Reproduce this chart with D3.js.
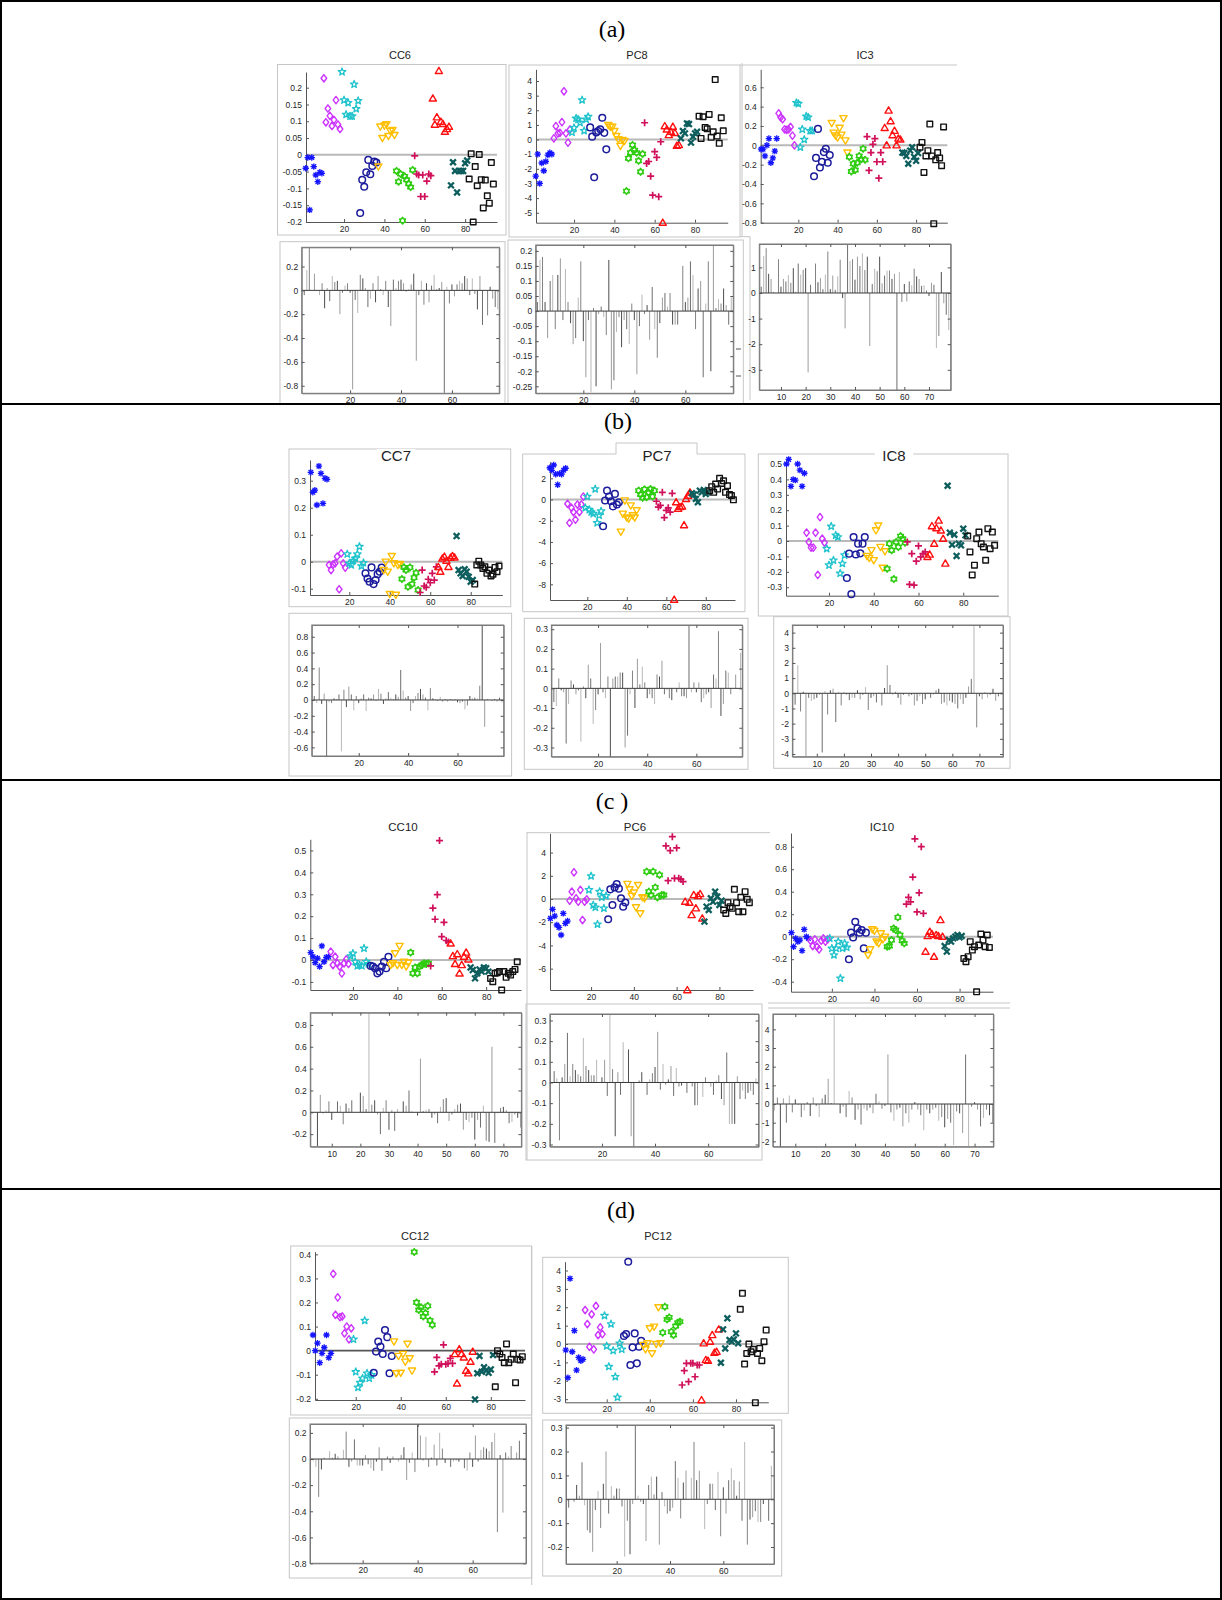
<!DOCTYPE html>
<html><head><meta charset="utf-8">
<script src="https://cdn.jsdelivr.net/npm/d3@7"></script>
<style>body{margin:0;background:#fff}svg{display:block}</style>
</head><body>
<svg id="chart" width="1222" height="1600"></svg>
<script>
// ---------------- DATA ----------------
const groupSizes = [9, 9, 9, 9, 9, 9, 9, 9, 9, 13];
const sectionLabels = ['(a)', '(b)', '(c )', '(d)'];
const scatterTitles = ['CC6', 'PC8', 'IC3', 'CC7', 'PC7', 'IC8', 'CC10', 'PC6', 'IC10', 'CC12', 'PC12'];
const scatterXTicks = [20, 40, 60, 80];
const barXTicks20 = [20, 40, 60];
const barXTicks10 = [10, 20, 30, 40, 50, 60, 70];

const cc6 = [
  [-0.04, -0.008, -0.164, -0.008, -0.035, -0.06, -0.08, -0.052, -0.055],
  [0.228, 0.097, 0.138, 0.116, 0.086, 0.104, 0.163, 0.09, 0.077],
  [0.247, 0.163, 0.12, 0.155, 0.115, 0.115, 0.21, 0.137, 0.161],
  [-0.173, -0.074, -0.095, -0.052, -0.015, -0.058, -0.033, -0.02, -0.023],
  [-0.035, 0.084, 0.05, 0.087, 0.091, 0.056, 0.071, 0.074, 0.059],
  [-0.048, -0.08, -0.057, -0.196, -0.064, -0.074, -0.086, -0.096, -0.045],
  [-0.003, -0.057, -0.06, -0.124, -0.06, -0.124, -0.078, -0.057, -0.062],
  [0.168, 0.09, 0.112, 0.25, 0.099, 0.092, 0.069, 0.077, 0.084],
  [-0.091, -0.022, -0.048, -0.112, -0.048, -0.048, -0.048, -0.025, -0.017],
  [-0.072, 0.003, -0.2, -0.035, -0.092, 0.001, -0.074, -0.158, -0.075, -0.122, -0.144, -0.023, -0.087]
];
const pc8 = [
  [-2.5, -1.0, -3.0, -1.6, -2.13, -1.5, -1.06, -0.9, -1.0],
  [0.08, 0.92, 0.42, 0.46, 1.19, 3.3, 0.42, -0.21, 0.69],
  [0.49, 0.8, 1.45, 1.38, 1.15, 2.7, 0.6, 1.38, 1.56],
  [0.83, 0.2, -2.58, 0.49, 0.58, 0.7, 1.49, 0.46, -0.67],
  [0.99, 0.88, 0.88, 0.58, 0.24, 0.01, -0.44, -0.03, -0.1],
  [-3.52, -1.28, -0.9, -0.37, -0.72, -0.9, -1.45, -2.2, -0.98],
  [1.15, -1.63, -1.5, -2.5, -3.8, -0.83, -1.22, -3.9, -0.15],
  [-5.68, 0.92, 0.69, 0.31, 0.53, 0.88, 0.46, -0.42, -0.37],
  [0.08, 0.58, 0.42, 1.1, 1.06, -0.21, 0.19, 0.42, 0.53],
  [1.6, 0.08, 1.56, 0.83, 0.74, 1.72, 0.15, 0.53, 4.1, 0.24, -0.26, 1.49, 0.6]
];
const ic3 = [
  [-0.04, -0.04, -0.11, 0.0, 0.07, -0.18, -0.13, -0.06, 0.07],
  [0.33, 0.29, 0.27, 0.165, 0.16, 0.165, 0.19, 0.1, 0.0],
  [0.44, 0.43, -0.02, 0.165, 0.06, 0.3, 0.29, 0.15, 0.15],
  [-0.32, -0.13, 0.17, -0.23, -0.17, -0.07, -0.035, -0.18, -0.1],
  [0.23, 0.13, 0.1, 0.08, 0.18, 0.11, 0.28, 0.05, -0.075],
  [-0.12, -0.27, -0.19, -0.255, -0.18, -0.11, -0.145, -0.035, -0.15],
  [0.09, -0.26, -0.075, 0.01, 0.07, -0.17, -0.34, -0.075, -0.17],
  [0.18, 0.0, 0.36, 0.25, 0.105, 0.15, 0.0, 0.07, 0.06],
  [-0.075, -0.08, -0.11, -0.19, -0.055, -0.02, -0.12, -0.16, -0.08],
  [-0.02, 0.03, -0.28, -0.11, -0.055, 0.22, -0.11, -0.81, -0.15, -0.075, -0.13, -0.21, 0.19]
];
const cc7 = [
  [0.331, 0.257, 0.265, 0.21, 0.354, 0.327, 0.216, 0.309, 0.305],
  [-0.012, -0.031, -0.01, -0.006, 0.019, -0.102, 0.031, -0.006, -0.022],
  [0.028, -0.006, -0.012, 0.004, 0.012, 0.028, 0.056, -0.016, -0.004],
  [-0.043, -0.062, -0.074, -0.021, -0.083, -0.068, -0.046, -0.037, -0.022],
  [-0.031, 0.0, -0.037, -0.12, 0.021, -0.006, -0.123, -0.012, -0.009],
  [-0.064, -0.021, -0.031, -0.093, -0.021, -0.083, -0.059, -0.041, -0.105],
  [-0.114, -0.031, -0.09, -0.095, -0.065, -0.078, -0.043, -0.068, -0.019],
  [-0.019, -0.037, 0.012, 0.019, 0.004, -0.019, 0.015, 0.021, 0.016],
  [0.095, -0.031, -0.043, -0.053, -0.028, -0.037, -0.056, -0.074, -0.068],
  [-0.083, -0.012, 0.002, -0.012, -0.025, -0.019, -0.043, -0.031, -0.053, -0.046, -0.021, -0.037, -0.016]
];
const pc7 = [
  [3.0, 2.76, 3.26, 2.39, 1.4, 2.45, 2.39, 2.76, 2.95],
  [-0.4, -2.2, -0.78, -1.18, -1.9, -0.47, -1.18, -0.47, 0.28],
  [-0.78, 0.28, -0.96, -1.18, -1.34, 0.99, -2.2, -1.49, -1.1],
  [-2.52, -0.09, 0.84, 0.28, -0.16, -0.65, 0.53, -0.47, -0.25],
  [-3.04, -1.34, -0.09, -1.7, -1.8, -0.56, -1.49, -1.7, -1.02],
  [0.84, 0.47, 0.16, 0.96, 0.22, 0.68, 0.99, 0.28, 0.84],
  [-0.16, -0.71, -0.56, 0.68, -1.7, -1.02, -0.78, -1.18, 0.59],
  [-9.45, -0.25, -0.87, -0.71, -0.65, -2.42, 0.06, 0.37, 0.68],
  [0.59, 0.47, 0.06, -0.25, 0.84, 0.68, 0.9, 0.53, 0.68],
  [0.84, 1.21, 0.68, 1.46, 0.99, 2.0, 1.52, 1.77, 0.68, 1.3, 0.47, 0.37, -0.03]
];
const ic8 = [
  [0.5, 0.53, 0.355, 0.4, 0.395, 0.5, 0.46, 0.355, 0.44],
  [0.054, -0.006, -0.043, -0.043, 0.054, -0.22, 0.155, 0.015, -0.01],
  [-0.05, -0.157, 0.095, -0.125, 0.037, 0.026, -0.21, -0.146, -0.092],
  [-0.24, -0.082, -0.345, 0.026, -0.088, -0.017, -0.08, -0.017, 0.026],
  [-0.097, -0.11, -0.06, -0.125, 0.069, 0.1, -0.039, -0.174, -0.067],
  [-0.18, -0.017, -0.06, -0.247, -0.006, -0.039, 0.032, 0.015, -0.011],
  [-0.006, -0.282, -0.082, -0.286, -0.131, -0.032, -0.103, -0.082, -0.071],
  [-0.103, -0.088, 0.097, -0.017, 0.084, 0.133, 0.069, 0.015, -0.146],
  [0.359, 0.054, -0.024, 0.041, -0.097, -0.017, -0.028, 0.08, 0.037],
  [0.032, -0.071, -0.22, -0.157, 0.015, 0.058, -0.017, -0.039, -0.125, 0.08, -0.05, 0.058, -0.028]
];
const cc10 = [
  [0.034, 0.015, -0.012, 0.008, -0.03, 0.064, -0.008, 0.012, 0.015],
  [0.038, -0.023, 0.015, -0.015, -0.03, -0.061, -0.015, 0.003, -0.018],
  [0.018, 0.03, -0.008, -0.027, -0.023, -0.027, 0.053, -0.008, -0.018],
  [-0.027, -0.03, -0.038, -0.061, -0.053, -0.03, -0.008, -0.038, 0.015],
  [-0.023, -0.015, 0.03, -0.023, 0.064, -0.023, -0.008, -0.03, -0.012],
  [0.034, -0.061, -0.034, -0.061, -0.03, -0.023, -0.015, -0.018, -0.015],
  [-0.027, 0.237, 0.186, 0.298, 0.545, 0.107, 0.172, 0.089, 0.082],
  [0.076, 0.018, -0.018, 0.027, -0.061, -0.023, 0.015, 0.034, 0.003],
  [-0.034, -0.046, -0.084, -0.061, -0.043, -0.053, -0.034, -0.038, -0.053],
  [-0.084, -0.099, -0.061, -0.058, -0.053, -0.137, -0.053, -0.079, -0.061, -0.069, -0.053, -0.043, -0.008]
];
const pc6 = [
  [-1.67, -0.89, -1.47, -2.24, -2.45, -3.1, -1.24, -2.1, -1.9],
  [-0.14, 0.63, 2.3, 0.06, -0.23, 0.78, -1.81, -0.23, -0.03],
  [0.78, 1.98, -0.52, -0.72, -2.18, 0.63, 0.14, -0.8, 0.26],
  [-1.75, 0.83, -0.52, 1.0, 1.29, 0.89, 0.06, -0.66, -0.3],
  [1.29, 0.83, 0.26, 0.55, -0.72, 1.2, -1.24, 0.14, 0.06],
  [2.36, 0.63, 0.34, 2.36, 1.0, 0.14, 2.07, 0.34, 0.34],
  [4.57, 1.58, 4.17, 5.37, 1.78, 4.4, 1.78, 1.7, 1.5],
  [-0.23, -7.85, -0.32, -1.38, 0.34, -0.8, 0.26, 0.43, -1.67],
  [-1.95, -0.66, -0.95, 0.06, -0.23, 0.63, 0.2, -0.52, -0.14],
  [-0.95, -1.24, -0.32, -0.66, -0.8, 0.83, -0.32, -1.1, 0.14, -1.1, 0.63, -0.03, -0.32]
];
const ic10 = [
  [0.036, -0.089, -0.015, -0.044, -0.03, -0.124, 0.065, 0.0, -0.015],
  [-0.036, -0.083, -0.024, -0.089, -0.113, -0.036, -0.015, -0.044, -0.024],
  [-0.015, -0.104, -0.163, -0.104, -0.044, -0.37, -0.104, -0.059, -0.095],
  [-0.2, 0.036, -0.006, 0.133, 0.074, 0.036, 0.059, -0.104, 0.036],
  [-0.163, -0.113, 0.065, 0.053, -0.044, -0.059, 0.03, -0.024, 0.0],
  [-0.089, -0.083, -0.03, 0.074, 0.059, 0.172, 0.015, -0.036, -0.059],
  [0.29, 0.35, 0.31, 0.53, 0.87, 0.22, 0.39, 0.8, 0.207],
  [-0.133, 0.006, 0.044, 0.024, -0.178, 0.015, 0.006, 0.148, 0.0],
  [-0.083, -0.133, -0.03, -0.044, -0.015, 0.0, 0.015, -0.006, 0.006],
  [-0.193, -0.222, -0.178, -0.044, -0.119, -0.089, -0.49, -0.074, 0.024, -0.03, -0.089, 0.015, -0.095]
];
const cc12 = [
  [0.065, 0.0, 0.031, -0.05, -0.011, 0.013, 0.065, -0.029, -0.011],
  [0.319, 0.149, 0.221, 0.139, 0.142, 0.072, 0.1, 0.047, 0.093],
  [0.047, -0.088, -0.153, -0.133, -0.115, 0.125, -0.094, -0.115, -0.101],
  [-0.092, -0.004, 0.038, 0.017, -0.014, 0.086, 0.056, -0.094, -0.022],
  [0.038, -0.094, -0.022, -0.092, -0.014, -0.046, 0.028, -0.032, -0.083],
  [0.41, 0.2, 0.169, 0.18, 0.142, 0.156, 0.186, 0.125, 0.107],
  [-0.088, -0.028, -0.063, -0.056, 0.024, -0.056, -0.053, -0.032, -0.053],
  [-0.014, -0.136, 0.006, -0.014, -0.028, -0.083, -0.094, -0.046, -0.004],
  [-0.203, -0.094, -0.022, -0.088, -0.069, -0.083, -0.092, -0.078, -0.018],
  [-0.15, 0.0, -0.014, -0.028, -0.05, 0.028, -0.05, -0.036, -0.014, -0.133, -0.036, -0.039, -0.025]
];
const pc12 = [
  [-0.33, -1.83, 3.56, -0.42, 0.73, -1.42, -0.73, -0.91, -0.83],
  [1.85, 1.09, -0.15, 1.62, -0.29, 2.07, 0.49, 0.91, 0.54],
  [1.54, -0.11, -1.23, 1.09, -0.36, -1.78, -2.9, 0.04, -0.29],
  [0.44, 0.54, 4.48, -1.14, -0.18, 0.58, -1.05, -0.15, 0.18],
  [-0.05, -0.29, 0.04, 0.85, -0.51, 0.94, 0.0, 2.0, 0.04],
  [0.62, 2.03, 1.34, 1.45, 0.67, 0.49, 0.98, 1.16, 1.22],
  [-2.23, -1.45, -1.05, -2.05, -1.05, -1.05, -1.78, -1.14, -1.14],
  [-3.05, 0.04, -0.87, -0.91, 0.13, 0.49, -0.47, -0.42, 0.8],
  [-1.02, 0.8, -0.24, 1.4, 0.22, 0.13, 0.25, 0.58, 0.04],
  [1.89, 2.76, -1.09, -0.51, 0.0, -0.42, -0.29, -3.19, -0.51, -0.24, -0.91, 0.13, 0.76]
];

const cc6Bars = [-0.02, -0.04, 0.17, 0.36, 0.0, 0.14, 0.0, -0.04, 0.06, -0.15, 0.02, -0.09, 0.12, 0.07, 0.08, -0.2, -0.02, 0.04, 0.06, -0.02, -0.83, -0.08, -0.19, 0.13, 0.1, 0.02, -0.14, -0.07, 0.06, -0.1, 0.12, 0.01, -0.04, 0.08, -0.14, -0.3, 0.09, 0.02, 0.08, 0.09, 0.06, -0.01, 0.01, 0.05, 0.14, -0.59, -0.04, 0.08, -0.12, 0.06, -0.1, 0.04, 0.13, 0.01, 0.02, 0.07, -0.86, 0.03, -0.11, 0.05, -0.05, 0.05, 0.08, 0.06, 0.12, 0.1, -0.04, 0.1, -0.03, -0.16, 0.12, -0.29, 0.0, -0.21, 0.03, -0.07, -0.14, -0.16];
const pc8Bars = [0, 0.03, 0.17, 0.18, 0.03, -0.09, 0.1, 0.12, -0.06, 0.12, 0.175, -0.03, 0.14, 0.03, -0.04, -0.11, -0.09, 0.045, 0.165, -0.1, -0.22, -0.03, -0.27, 0.01, -0.25, -0.01, 0.015, -0.02, -0.08, 0.17, -0.26, -0.23, -0.07, -0.02, -0.12, -0.03, -0.06, -0.11, 0.025, -0.03, -0.21, -0.05, 0.055, -0.01, 0.02, -0.095, 0.08, -0.06, -0.155, -0.04, 0.045, 0.06, 0.015, 0.06, -0.045, -0.045, -0.045, 0.0, 0.15, 0.03, 0.045, 0.165, 0.12, -0.06, 0.075, 0.1, -0.22, 0.025, 0.165, -0.2, 0.22, 0.01, 0.04, 0.025, 0.075, 0.02, -0.045, 0.045];
const ic3Bars = [0, 0.25, 1.45, 1.75, 0.75, 0.55, 0.03, -0.02, 1.32, 0.25, 0.55, 0.45, 0.7, 0.4, 0.97, 0.05, 1.15, 0.72, 0.9, 0.97, -3.1, 0.32, -0.02, 1.15, 0.42, 0.58, 0.15, 0.72, 1.62, 0.15, 0.68, 0.12, 0.65, 1.3, -0.2, -1.38, 1.9, 1.25, 1.32, 0.52, 1.42, 1.05, 1.55, 0.9, 1.42, -2.07, 0.35, 0.95, 0.85, 1.42, 0.38, 0.68, 0.87, 0.88, 0.55, 0.75, -3.8, 0.82, -0.35, 0.35, -0.33, 0.45, 0.3, 0.95, 0.65, 0.55, 0.28, 0.3, 0.1, -0.12, 0.4, 0.32, -2.15, -1.68, 0.82, -0.4, -0.85, -1.45];
const cc7Bars = [0, 0.05, -0.04, 0.41, -0.05, 0.08, -0.72, -0.03, -0.04, 0.02, 0.01, 0.07, -0.65, 0.13, -0.09, 0.17, 0.07, -0.13, 0.05, -0.04, 0.02, 0.07, -0.14, 0.03, 0.02, 0.07, -0.01, 0.14, 0.08, -0.05, 0.02, 0.1, 0.03, 0.01, 0.07, 0.04, 0.38, 0.12, 0.03, 0.05, -0.14, -0.04, 0.05, 0.09, 0.14, 0.07, 0.03, -0.13, 0.15, 0.02, 0.01, -0.01, 0.04, -0.02, 0.01, -0.02, 0.01, -0.01, 0.01, -0.03, -0.04, -0.02, -0.12, -0.07, 0.05, 0.02, 0.03, 0.02, 0.18, 0.95, -0.34, 0.01, 0.0, -0.01, 0.01, -0.02, 0.03, -0.03];
const pc7Bars = [0, -0.07, -0.09, 0.05, -0.01, -0.02, -0.28, -0.08, 0.04, 0.02, -0.03, -0.01, -0.27, 0.01, -0.05, 0.12, 0.05, -0.18, -0.11, -0.03, 0.23, -0.02, -0.05, 0.06, -0.35, 0.05, 0.06, 0.06, 0.08, 0.08, -0.3, -0.24, -0.03, 0.09, -0.1, 0.15, 0.02, 0.11, 0.03, -0.05, -0.03, -0.05, -0.08, 0.07, 0.06, 0.14, -0.03, -0.01, -0.05, -0.06, 0.0, -0.02, 0.03, -0.04, -0.04, -0.05, 0.32, -0.02, 0.03, -0.02, 0.03, -0.07, -0.05, -0.03, -0.02, -0.1, 0.07, 0.05, 0.29, -0.14, -0.08, 0.09, 0.08, -0.03, 0.0, 0.07, 0.0, 0.18];
const ic8Bars = [0, -0.75, 1.85, -1.2, 0.1, -4.2, -0.3, -0.5, -0.4, -0.3, -0.1, -3.9, 0.15, -1.4, 0.2, 0.3, -1.9, 0.1, -0.8, 0.05, -0.1, -0.45, -0.3, -0.3, 0.2, -0.4, -0.1, 0.4, -1.1, -0.3, -0.2, -0.6, 0.05, -0.8, 0.35, 1.85, 0.55, -0.1, 0.1, -0.3, -0.75, -0.1, 0.0, -0.2, -0.1, -0.8, -0.5, -0.2, -0.7, -0.4, 0.05, -0.3, -0.1, 0.2, 0.3, -0.7, -0.6, -0.8, -0.5, -0.6, -0.7, -1.0, -0.4, -0.7, -0.3, 0.45, 0.95, 4.5, -2.25, -0.2, -0.4, 0.05, -0.3, -0.1, 0.3, -0.5, -0.2, 0.1];
const cc10Bars = [0, 0, 0, 0, -0.31, 0.16, -0.01, 0.02, 0.1, -0.07, 0.0, 0.1, 0.06, -0.11, 0.08, 0.04, 0.11, 0.0, 0.0, 0.18, 0.15, 0.03, 0.92, 0.07, 0.11, -0.02, -0.2, 0.04, 0.11, -0.16, 0.02, -0.17, 0.03, 0.0, 0.1, 0.06, 0.2, 0.01, 0.0, -0.03, 0.49, 0.01, 0.02, 0.03, -0.05, -0.02, -0.1, 0.05, 0.12, 0.13, -0.08, -0.02, 0.03, 0.07, 0.08, -0.16, -0.07, -0.09, -0.05, -0.25, -0.07, -0.14, 0.06, -0.26, -0.27, 0.6, -0.28, -0.01, 0.04, 0.05, 0.02, -0.1, -0.09, -0.02, -0.05, -0.14, 0, 0];
const pc6Bars = [0, 0.055, 0.02, -0.28, 0.025, 0.09, 0.24, 0.03, 0.09, 0.06, 0.04, 0.03, 0.215, 0.08, 0.06, 0.035, 0.035, 0.11, 0.0, 0.025, 0.11, -0.065, 0.335, 0.065, -0.26, 0.05, -0.06, 0.195, 0.0, 0.16, -0.26, -0.32, 0.0, 0.01, 0.05, 0.0, -0.06, 0.015, 0.045, 0.075, 0.245, -0.035, 0.09, -0.01, 0.015, 0.08, -0.065, 0.07, -0.02, -0.015, 0.0, -0.05, 0.0, -0.02, -0.11, -0.11, 0.0, -0.07, 0.025, 0.0, -0.02, -0.06, 0.01, 0.035, -0.08, -0.11, 0.145, -0.2, -0.2, -0.2, 0.03, -0.08, -0.04, -0.08, -0.05, -0.04, -0.06, 0.02];
const ic10Bars = [-0.3, 0.1, -0.35, 0.35, -2.3, 0.3, -1.0, 0.45, -0.45, 0.25, -0.05, -0.7, -0.35, 0.1, -0.65, 0.35, -0.1, -0.7, 0.3, 0.5, 1.35, 0.05, 4.75, 0.0, -0.5, -0.15, -0.7, 0.7, 0.35, -0.85, -0.3, -1.1, -0.25, -0.35, -0.2, -0.5, 0.55, 0.15, -0.25, -0.1, 2.65, -0.45, -0.9, -0.3, -0.2, -1.2, -0.5, -1.0, -0.3, 0.1, -0.3, -0.6, -1.4, -0.3, -0.5, -0.3, -0.2, -0.9, -0.7, -1.25, -0.8, -1.0, -2.2, -0.4, -0.5, -1.55, 2.65, -2.25, -0.15, 0.1, -0.3, -1.2, -0.75, -0.3, -0.6, -1.0, -0.5, -0.9];
const cc12Bars = [0, -0.01, -0.06, -0.29, -0.08, 0.01, 0.0, 0.06, 0.01, 0.04, 0.02, 0.0, 0.07, 0.21, -0.06, -0.02, 0.15, -0.05, -0.05, -0.05, 0.03, -0.04, -0.07, -0.09, -0.02, 0.09, -0.09, -0.01, 0.02, -0.03, 0.02, 0.0, -0.02, 0.03, 0.09, -0.16, -0.03, 0.05, -0.1, 0.27, 0.18, -0.01, 0.17, -0.06, 0.01, 0.11, -0.05, 0.2, 0.08, -0.03, 0.0, -0.06, -0.02, -0.01, -0.02, 0.0, -0.07, -0.09, 0.05, -0.06, 0.18, -0.02, 0.07, 0.09, 0.08, 0.06, 0.13, 0.2, -0.56, 0.03, -0.41, 0.05, 0.02, 0.1, 0.0, 0.05, 0.14, 0.0];
const pc12Bars = [0, -0.035, 0.0, -0.01, 0.06, 0.015, 0.155, -0.025, -0.13, -0.14, -0.22, -0.045, 0.035, -0.12, 0.065, 0.2, -0.06, 0.055, 0.015, 0.045, 0.045, -0.03, -0.24, -0.09, -0.23, -0.02, 0.31, 0.015, -0.01, -0.02, -0.175, 0.06, 0.095, 0.02, 0.095, -0.19, 0.03, -0.03, -0.06, -0.05, -0.035, 0.16, 0.09, -0.08, 0.07, 0.12, 0.0, 0.09, 0.24, 0.08, 0.12, 0.0, -0.125, -0.02, 0.065, 0.065, -0.045, 0.115, -0.155, 0.05, -0.06, 0.08, 0.13, 0.08, 0.015, 0.075, -0.09, 0.24, -0.19, -0.085, -0.075, -0.05, -0.095, -0.095, -0.02, 0.0, -0.09, 0.14];

// ---------------- STYLE / LAYOUT ----------------
const svg = d3.select('#chart');
const FONT = 'Liberation Sans, Arial, Helvetica, sans-serif';
const groupColors = ['#1414ff', '#cc33ff', '#1fc3cc', '#1c1c9c', '#ffbf00', '#2ecc10', '#d0105a', '#ff1010', '#0e5e5e', '#111111'];

function starPath(n, ro, ri) {
  let p = '';
  for (let i = 0; i < 2 * n; i++) {
    const a = -Math.PI / 2 + i * Math.PI / n;
    const r = i % 2 ? ri : ro;
    p += (i ? 'L' : 'M') + (r * Math.cos(a)).toFixed(2) + ',' + (r * Math.sin(a)).toFixed(2);
  }
  return p + 'Z';
}
function circlePath(r) { return `M${r},0A${r},${r} 0 1 1 ${-r},0A${r},${r} 0 1 1 ${r},0Z`; }
const ast = 3.2, asd = 2.3;
const groupShapes = [
  `M0,${-ast}V${ast}M${-ast},0H${ast}M${-asd},${-asd}L${asd},${asd}M${-asd},${asd}L${asd},${-asd}`,
  'M0,-3.7L2.8,0L0,3.7L-2.8,0Z',
  starPath(5, 3.9, 1.6),
  circlePath(3.3),
  'M-3.6,-2.6L3.6,-2.6L0,3.6Z',
  starPath(6, 3.3, 2.1),
  'M-3.5,0H3.5M0,-3.5V3.5',
  'M-3.6,2.6L3.6,2.6L0,-3.6Z',
  'M-2.9,-2.9L2.9,2.9M-2.9,2.9L2.9,-2.9',
  'M-2.8,-2.8H2.8V2.8H-2.8Z'
];
const groupStroke = [1.3, 1.4, 1.3, 1.5, 1.4, 1.6, 1.7, 1.4, 2.3, 1.4];
const barShades = ['#4d4d4d', '#9c9c9c', '#6e6e6e', '#b8b8b8', '#838383'];

const fmt = d => String(+(+d).toFixed(3));

const scatterCfg = [
  {d: cc6, title: 0, tx: 400, ty: 59, tfs: 11, l: 306, r: 497, t: 72, b: 222, xd: [1.14, 95.8], yd: [-0.2, 0.2467], yt: [-0.2, -0.15, -0.1, -0.05, 0, 0.05, 0.1, 0.15, 0.2]},
  {d: pc8, title: 1, tx: 637, ty: 59, tfs: 11, l: 536, r: 727.7, t: 69.3, b: 222.7, xd: [1.14, 96.2], yd: [-5.68, 4.8], yt: [-5, -4, -3, -2, -1, 0, 1, 2, 3, 4]},
  {d: ic3, title: 2, tx: 865, ty: 59, tfs: 11, l: 760.7, r: 947.3, t: 69.3, b: 222.7, xd: [0.82, 95.9], yd: [-0.8, 0.786], yt: [-0.8, -0.6, -0.4, -0.2, 0, 0.2, 0.4, 0.6]},
  {d: cc7, title: 3, tx: 396, ty: 461, tfs: 15, bg: true, l: 310, r: 502.3, t: 460, b: 595, xd: [0.59, 95.6], yd: [-0.1233, 0.3767], yt: [-0.1, 0, 0.1, 0.2, 0.3]},
  {d: pc7, title: 4, tx: 657, ty: 461, tfs: 15, bg: false, l: 550, r: 735, t: 461.7, b: 600, xd: [1.11, 94.8], yd: [-9.48, 3.57], yt: [-8, -6, -4, -2, 0, 2]},
  {d: ic8, title: 5, tx: 894, ty: 461, tfs: 15, bg: true, l: 786, r: 998.4, t: 458.3, b: 595.7, xd: [0.8, 95.7], yd: [-0.355, 0.537], yt: [-0.3, -0.2, -0.1, 0, 0.1, 0.2, 0.3, 0.4, 0.5]},
  {d: cc10, title: 6, tx: 403, ty: 831, tfs: 11.5, l: 310.3, r: 521, t: 839.3, b: 990, xd: [0.8, 95.7], yd: [-0.137, 0.551], yt: [-0.1, 0, 0.1, 0.2, 0.3, 0.4, 0.5]},
  {d: pc6, title: 7, tx: 635, ty: 831, tfs: 11.5, l: 550, r: 753, t: 833.3, b: 990, xd: [0.8, 95.7], yd: [-7.84, 5.66], yt: [-6, -4, -2, 0, 2, 4]},
  {d: ic10, title: 8, tx: 882, ty: 831, tfs: 11.5, l: 791, r: 993, t: 833, b: 991.7, xd: [0.8, 95.7], yd: [-0.489, 0.922], yt: [-0.4, -0.2, 0, 0.2, 0.4, 0.6, 0.8]},
  {d: cc12, title: 9, tx: 415, ty: 1240, tfs: 11, l: 315, r: 525, t: 1251.7, b: 1400, xd: [1.9, 95.2], yd: [-0.205, 0.411], yt: [-0.2, -0.1, 0, 0.1, 0.2, 0.3, 0.4], zc: '#555', zw: 1.6},
  {d: pc12, title: 10, tx: 658, ty: 1240, tfs: 11, l: 565, r: 768.3, t: 1261.7, b: 1402.3, xd: [0.65, 95], yd: [-3.17, 4.48], yt: [-3, -2, -1, 0, 1, 2, 3, 4]}
];
const barCfg = [
  {d: cc6Bars, l: 301.7, r: 499.3, t: 247.3, b: 393.3, xd: [1, 78.6], yd: [-0.8634, 0.3613], yt: [-0.8, -0.6, -0.4, -0.2, 0, 0.2], xt: barXTicks20},
  {d: pc8Bars, l: 535.7, r: 733.3, t: 245, b: 393.3, xd: [1.33, 78.8], yd: [-0.2732, 0.2195], yt: [-0.25, -0.2, -0.15, -0.1, -0.05, 0, 0.05, 0.1, 0.15, 0.2], xt: barXTicks20},
  {d: ic3Bars, l: 759.3, r: 950.7, t: 244, b: 390, xd: [1.22, 78.8], yd: [-3.789, 1.914], yt: [-3, -2, -1, 0, 1], xt: barXTicks10},
  {d: cc7Bars, l: 311.8, r: 503.7, t: 625, b: 756, xd: [1, 78.7], yd: [-0.709, 0.949], yt: [-0.6, -0.4, -0.2, 0, 0.2, 0.4, 0.6, 0.8], xt: barXTicks20},
  {d: pc7Bars, l: 551.4, r: 742.3, t: 625, b: 756.7, xd: [1, 78.7], yd: [-0.3467, 0.3213], yt: [-0.3, -0.2, -0.1, 0, 0.1, 0.2, 0.3], xt: barXTicks20},
  {d: ic8Bars, l: 792.4, r: 1003, t: 625, b: 756.7, xd: [1, 78.7], yd: [-4.18, 4.502], yt: [-4, -3, -2, -1, 0, 1, 2, 3, 4], xt: barXTicks10},
  {d: cc10Bars, l: 310.3, r: 521.4, t: 1012.7, b: 1146.7, xd: [2.5, 76.3], yd: [-0.315, 0.912], yt: [-0.2, 0, 0.2, 0.4, 0.6, 0.8], xt: barXTicks10},
  {d: pc6Bars, l: 549.9, r: 758.6, t: 1014, b: 1146.7, xd: [0.4, 79], yd: [-0.3106, 0.3314], yt: [-0.3, -0.2, -0.1, 0, 0.1, 0.2, 0.3], xt: barXTicks20},
  {d: ic10Bars, l: 772.9, r: 993.4, t: 1014, b: 1146.7, xd: [2.5, 76.3], yd: [-2.287, 4.821], yt: [-2, -1, 0, 1, 2, 3, 4], xt: barXTicks10},
  {d: cc12Bars, l: 310, r: 526, t: 1424, b: 1563.3, xd: [0.85, 79.4], yd: [-0.798, 0.268], yt: [-0.8, -0.6, -0.4, -0.2, 0, 0.2], xt: barXTicks20},
  {d: pc12Bars, l: 566, r: 774, t: 1425, b: 1564, xd: [1, 79], yd: [-0.271, 0.311], yt: [-0.2, -0.1, 0, 0.1, 0.2, 0.3], xt: barXTicks20}
];

// ---------------- FRAMES ----------------
const frameG = svg.append('g').attr('fill', 'none').attr('stroke', '#c6c6c6').attr('stroke-width', 1);
const frameRects = [
  [277.5, 64.5, 506, 235], [509, 65, 740, 237], [280, 241.7, 505, 404], [508, 240, 743.3, 404],
  [289, 449, 510.7, 606.7], [758.3, 454, 1008, 616],
  [289, 613.3, 511.6, 776], [524.3, 618.3, 748, 769.3], [773.7, 616.7, 1010, 768.3],
  [526, 1004, 762, 1160],
  [290.7, 1246, 531.7, 1415], [289.3, 1418, 531.7, 1578], [542.7, 1257.3, 788.3, 1413.3], [542.7, 1420, 781.7, 1576]
];
frameRects.forEach(f => frameG.append('rect').attr('x', f[0]).attr('y', f[1]).attr('width', f[2] - f[0]).attr('height', f[3] - f[1]));
const frameLines = [
  [740, 65, 957, 65], [742, 63, 742, 237], [740, 236.7, 750, 236.7], [750, 236.7, 750, 400],
  [527, 832, 527, 1160], [527, 832.7, 770, 832.7], [768, 1003, 1010, 1003], [768, 1008, 1010, 1008],
  [531.7, 1246, 531.7, 1585]
];
frameLines.forEach(f => frameG.append('line').attr('x1', f[0]).attr('y1', f[1]).attr('x2', f[2]).attr('y2', f[3]));
frameG.append('path').attr('d', 'M522.7,611.7V454H616V443H697V454H745V611.7Z');
frameG.append('path').attr('d', 'M736,349H741M736,376H741').attr('stroke', '#555');

// ---------------- PANELS ----------------
function styleAxis(a, fs) {
  a.attr('font-family', FONT).attr('font-size', fs);
  a.selectAll('path.domain').attr('stroke', '#555');
  a.selectAll('.tick line').attr('stroke', '#555');
  a.selectAll('.tick text').attr('fill', '#262626');
}

function drawScatter(cfg) {
  const g = svg.append('g');
  const x = d3.scaleLinear().domain(cfg.xd).range([cfg.l, cfg.r]);
  const y = d3.scaleLinear().domain(cfg.yd).range([cfg.b, cfg.t]);
  g.append('line').attr('x1', cfg.l).attr('x2', cfg.r).attr('y1', y(0)).attr('y2', y(0))
    .attr('stroke', cfg.zc || '#b9b9b9').attr('stroke-width', cfg.zw || 2);
  const ya = g.append('g').attr('transform', `translate(${cfg.l},0)`)
    .call(d3.axisLeft(y).tickValues(cfg.yt).tickFormat(fmt).tickSizeInner(-3).tickSizeOuter(0).tickPadding(4));
  styleAxis(ya, 8.5);
  const xa = g.append('g').attr('transform', `translate(0,${cfg.b})`)
    .call(d3.axisBottom(x).tickValues(scatterXTicks).tickFormat(d3.format('d')).tickSizeInner(-3).tickSizeOuter(0).tickPadding(4));
  styleAxis(xa, 8.5);
  if (cfg.bg) {
    const w = scatterTitles[cfg.title].length * cfg.tfs * 0.68 + 8;
    g.append('rect').attr('x', cfg.tx - w / 2).attr('y', cfg.ty - cfg.tfs * 0.8).attr('width', w).attr('height', cfg.tfs).attr('fill', '#fff');
  }
  g.append('text').attr('x', cfg.tx).attr('y', cfg.ty).attr('text-anchor', 'middle')
    .attr('font-family', FONT).attr('font-size', cfg.tfs).attr('fill', '#222').text(scatterTitles[cfg.title]);
  const pts = [];
  let start = 1;
  cfg.d.forEach((arr, gi) => {
    arr.forEach((v, j) => pts.push({g: gi, i: start + j, v: v}));
    start += groupSizes[gi];
  });
  g.append('g').selectAll('path').data(pts).join('path')
    .attr('d', p => groupShapes[p.g])
    .attr('transform', p => `translate(${x(p.i).toFixed(2)},${y(p.v).toFixed(2)})`)
    .attr('fill', 'none')
    .attr('stroke', p => groupColors[p.g])
    .attr('stroke-width', p => groupStroke[p.g])
    .attr('stroke-linejoin', 'round');
}

function drawBars(cfg) {
  const g = svg.append('g');
  const x = d3.scaleLinear().domain(cfg.xd).range([cfg.l, cfg.r]);
  const y = d3.scaleLinear().domain(cfg.yd).range([cfg.b, cfg.t]).clamp(true);
  g.append('rect').attr('x', cfg.l).attr('y', cfg.t).attr('width', cfg.r - cfg.l).attr('height', cfg.b - cfg.t)
    .attr('fill', '#fff').attr('stroke', '#7a7a7a').attr('stroke-width', 1);
  const bars = cfg.d.map((v, i) => ({k: i + 1, v: v})).filter(b => b.v !== 0 && b.k >= cfg.xd[0] && b.k <= cfg.xd[1]);
  g.append('g').selectAll('line').data(bars).join('line')
    .attr('x1', b => x(b.k)).attr('x2', b => x(b.k))
    .attr('y1', y(0)).attr('y2', b => y(b.v))
    .attr('stroke', b => barShades[b.k % barShades.length]).attr('stroke-width', 1);
  g.append('line').attr('x1', cfg.l).attr('x2', cfg.r).attr('y1', y(0)).attr('y2', y(0)).attr('stroke', '#3a3a3a').attr('stroke-width', 1);
  const ya = g.append('g').attr('transform', `translate(${cfg.l},0)`)
    .call(d3.axisLeft(y).tickValues(cfg.yt).tickFormat(fmt).tickSizeInner(-3).tickSizeOuter(0).tickPadding(3.5));
  styleAxis(ya, 8.5);
  const yr = g.append('g').attr('transform', `translate(${cfg.r},0)`)
    .call(d3.axisRight(y).tickValues(cfg.yt).tickFormat('').tickSizeInner(-3).tickSizeOuter(0));
  styleAxis(yr, 8.5);
  const xa = g.append('g').attr('transform', `translate(0,${cfg.b})`)
    .call(d3.axisBottom(x).tickValues(cfg.xt).tickFormat(d3.format('d')).tickSizeInner(-3).tickSizeOuter(0).tickPadding(4));
  styleAxis(xa, 8.5);
  const xt = g.append('g').attr('transform', `translate(0,${cfg.t})`)
    .call(d3.axisTop(x).tickValues(cfg.xt).tickFormat('').tickSizeInner(-3).tickSizeOuter(0));
  styleAxis(xt, 8.5);
  g.selectAll('path.domain').attr('stroke', '#7a7a7a');
}

scatterCfg.forEach(drawScatter);
barCfg.forEach(drawBars);

// ---------------- SECTION LABELS & BORDERS ----------------
const labelPos = [[612, 37], [618, 429], [612, 809], [621, 1218]];
sectionLabels.forEach((t, i) => {
  svg.append('text').attr('x', labelPos[i][0]).attr('y', labelPos[i][1]).attr('text-anchor', 'middle')
    .attr('font-family', 'Liberation Serif, Times New Roman, serif').attr('font-size', 24).attr('fill', '#000').text(t);
});
[404, 780, 1189].forEach(yy => svg.append('line').attr('x1', 0).attr('x2', 1222).attr('y1', yy).attr('y2', yy).attr('stroke', '#000').attr('stroke-width', 2));
svg.append('rect').attr('x', 1).attr('y', 1).attr('width', 1220).attr('height', 1598).attr('fill', 'none').attr('stroke', '#000').attr('stroke-width', 2);
</script>
</body></html>
